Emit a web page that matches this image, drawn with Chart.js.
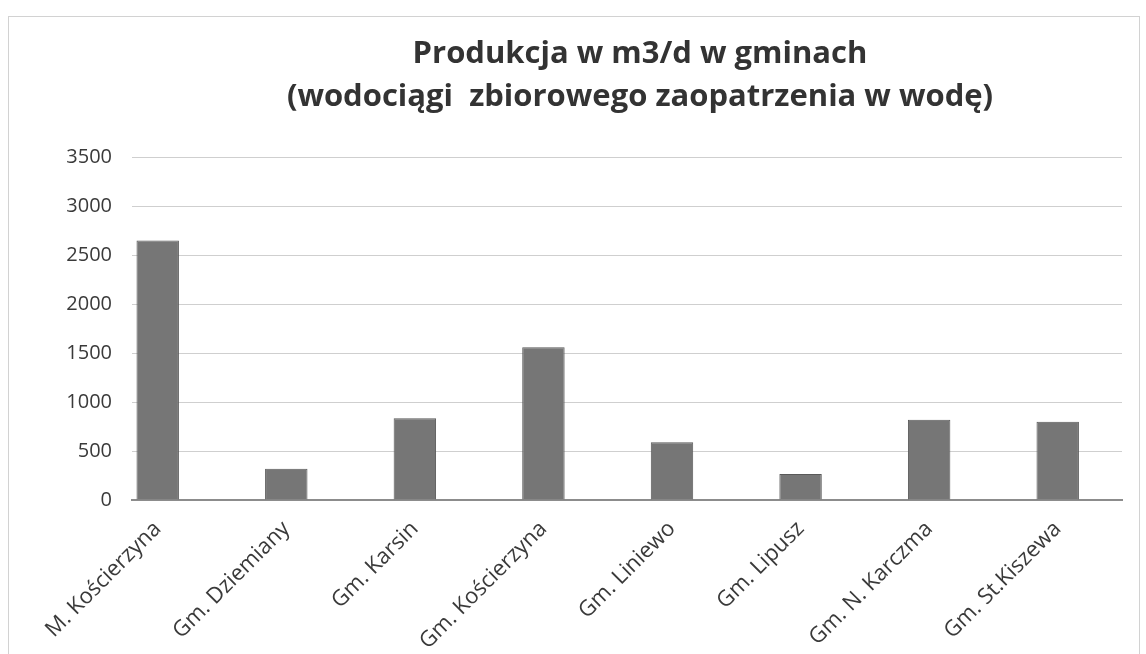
<!DOCTYPE html>
<html lang="pl">
<head>
<meta charset="utf-8">
<title>Produkcja w m3/d w gminach</title>
<script src="https://cdn.jsdelivr.net/npm/chart.js@4.4.1/dist/chart.umd.min.js"></script>
<style>
  html, body { margin: 0; padding: 0; background: #fff; }
  #wrap { position: relative; width: 1146px; height: 654px; }
  #frame {
    position: absolute; left: 8px; top: 16px; width: 1132px; height: 640px;
    border: 1px solid #d2d2d2; box-sizing: border-box; pointer-events: none;
  }
  canvas { display: block; }
</style>
</head>
<body>
<div id="wrap">
  <canvas id="chart" width="1146" height="654"></canvas>
  <div id="frame"></div>
</div>
<script>
const categories = [
  "M. Kościerzyna",
  "Gm. Dziemiany",
  "Gm. Karsin",
  "Gm. Kościerzyna",
  "Gm. Liniewo",
  "Gm. Lipusz",
  "Gm. N. Karczma",
  "Gm. St.Kiszewa",
];
const production = [2650, 320, 835, 1560, 590, 265, 820, 800];
const yTicks = [0, 500, 1000, 1500, 2000, 2500, 3000, 3500];
const titleLines = ["Produkcja w m3/d w gminach", "(wodociągi  zbiorowego zaopatrzenia w wodę)"];

const TEXT = "#3a3a3a";
const FONT = "'Open Sans', 'DejaVu Sans', sans-serif";

// the scanned original has its title a little right of centre
const titleShift = {
  id: "titleShift",
  afterLayout(chart) {
    const box = chart.titleBlock;
    if (!box) return;
    box.left += 48;
    box.right += 48;
  },
};

// bars sit on a numeric x axis (one unit per gmina) so the first bar can
// start right next to the value labels, like in the original
const points = categories.map((name, i) => ({ x: i, y: production[i] }));

new Chart(document.getElementById("chart"), {
  type: "bar",
  data: {
    datasets: [{
      data: points,
      backgroundColor: "#767676",
      borderColor: "#595959",
      borderWidth: 1,
      barPercentage: 0.33,
      categoryPercentage: 1,
    }],
  },
  options: {
    responsive: false,
    animation: false,
    layout: { padding: { left: 62, right: 24, top: 10, bottom: 6 } },
    plugins: {
      legend: { display: false },
      tooltip: { enabled: false },
      title: {
        display: true,
        text: titleLines,
        color: "#333",
        font: { family: FONT, size: 31, weight: "bold", lineHeight: 1.39 },
        padding: { top: 23, bottom: 38 },
      },
    },
    scales: {
      x: {
        type: "linear",
        offset: false,
        min: -0.2,
        max: 7.5,
        grid: { display: false },
        border: { color: "#8c8c8c", width: 2 },
        ticks: {
          stepSize: 1,
          includeBounds: false,
          autoSkip: false,
          color: TEXT,
          font: { family: FONT, size: 22 },
          maxRotation: 45,
          minRotation: 45,
          padding: 8,
          callback: (value) => (Number.isInteger(value) ? categories[value] : ""),
        },
        afterFit: (scale) => { scale.height = 148; },
      },
      y: {
        min: 0,
        max: 3500,
        afterBuildTicks: (scale) => { scale.ticks = yTicks.map((value) => ({ value })); },
        afterFit: (scale) => { scale.width = 70; },
        grid: { color: "#cfcfcf", lineWidth: 1, drawTicks: false },
        border: { display: false },
        ticks: {
          color: TEXT,
          font: { family: FONT, size: 20 },
          padding: 20,
          callback: (value) => String(value),
        },
      },
    },
  },
  plugins: [titleShift],
});
</script>
</body>
</html>
